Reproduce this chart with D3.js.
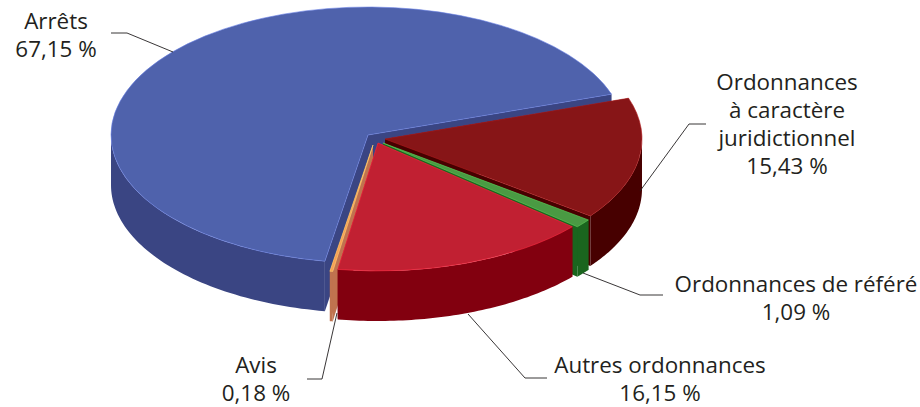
<!DOCTYPE html>
<html><head><meta charset="utf-8">
<script src="https://cdnjs.cloudflare.com/ajax/libs/d3/7.8.5/d3.min.js"></script>
<style>html,body{margin:0;padding:0;background:#fff}svg{display:block}text{font-family:"Open Sans",sans-serif;fill:#231f20;text-anchor:middle}</style>
</head><body><svg id="c" width="920" height="407"></svg>
<script>
const categories = ["Ordonnances à caractère juridictionnel","Ordonnances de référé","Autres ordonnances","Avis","Arrêts"];
const shares = [15.43,1.09,16.15,0.18,67.15];
const shareLabels = ["15,43 %","1,09 %","16,15 %","0,18 %","67,15 %"];
const topColors = ["#871517","#4a9a43","#c12032","#f89f56","#4f62ac"];
const wallColors = ["#470000","#1a651e","#82000f","#c0734f","#3a4583"];
const apexes = [[385,139],[383,143],[378,143],[373,145],[368,135]];
const drawOrder = [4,0,3,1,2];
const labelLines = [
 {lines:["Ordonnances","à caractère","juridictionnel"],x:787,y:[90,118,146,174]},
 {lines:["Ordonnances de référé"],x:796,y:[292,320]},
 {lines:["Autres ordonnances"],x:660,y:[373,401]},
 {lines:["Avis"],x:256,y:[373,401]},
 {lines:["Arrêts"],x:56,y:[29,57]}
];
const leaders = [
 [[640,191],[689,124],[706,124]],
 [[583,273],[640,295],[663,295]],
 [[468,314],[525,378],[547,378]],
 [[337,313],[322,379],[307,379]],
 [[173,52],[127,33],[111,33]]
];
const rx=257, ry=128, depth=50, startDeg=71.4;
const svg=d3.select("#c");
const pie=d3.pie().sort(null).startAngle(startDeg*Math.PI/180).endAngle((startDeg+360)*Math.PI/180);
const arcs=pie(shares);
const arcGen=d3.arc().innerRadius(0).outerRadius(rx);
const line=d3.line();
const rim=(a,ap,dz=0)=>[ap[0]+rx*Math.sin(a), ap[1]-ry*Math.cos(a)+dz];
const g=svg.append("g");
drawOrder.forEach(i=>{
  const d=arcs[i], ap=apexes[i], s=g.append("g");
  const face=a=>line([ap,rim(a,ap),rim(a,ap,depth),[ap[0],ap[1]+depth]])+"Z";
  [d.startAngle,d.endAngle].forEach(a=>s.append("path").attr("d",face(a)).attr("fill",wallColors[i]));
  // outer wall: only the front half of the rim is visible
  const a0=Math.max(d.startAngle,Math.PI/2), a1=Math.min(d.endAngle,Math.PI*1.5);
  if(a1>a0){
    const ts=d3.range(0,1.0001,1/60).map(t=>a0+(a1-a0)*t);
    const pts=ts.map(a=>rim(a,ap)).concat(ts.slice().reverse().map(a=>rim(a,ap,depth)));
    s.append("path").attr("d",line(pts)+"Z").attr("fill",wallColors[i]);
  }
  s.append("path").attr("d",arcGen(d))
   .attr("transform",`translate(${ap[0]},${ap[1]}) scale(1,${ry/rx})`)
   .attr("fill",topColors[i])
   .attr("stroke",d3.color(topColors[i]).brighter(0.8).formatHex())
   .attr("stroke-width",0.6).attr("vector-effect","non-scaling-stroke");
});
svg.append("g").selectAll("path").data(leaders).join("path")
  .attr("d",d=>line(d)).attr("fill","none").attr("stroke","#231f20").attr("stroke-width",0.9);
const fs=22.4;
labelLines.forEach((l,i)=>{
  const rows=l.lines.concat([shareLabels[i]]);
  svg.append("g").selectAll("text").data(rows).join("text")
   .attr("x",l.x).attr("y",(d,k)=>l.y[k]).attr("font-size",fs).text(d=>d);
});
</script></body></html>
